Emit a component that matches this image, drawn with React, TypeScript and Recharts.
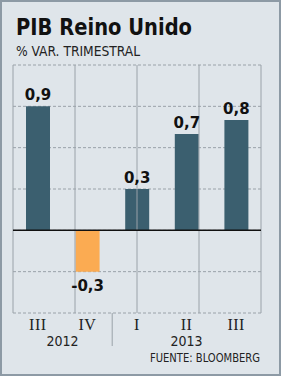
import React from 'react'
import { BarChart, Bar, XAxis, YAxis, CartesianGrid, ReferenceLine, LabelList, Cell } from 'recharts'

const quarters = ['III', 'IV', 'I', 'II', 'III']
const growth = [0.9, -0.3, 0.3, 0.7, 0.8]
const yearGroups = [
  { year: '2012', first: 0, last: 1 },
  { year: '2013', first: 2, last: 4 },
]
const yTicks = [-0.6, -0.3, 0, 0.3, 0.6, 0.9, 1.2]
const bounds = [0, 1, 2, 3, 4, 5]

const W = 281
const H = 376
const M = { top: 65, right: 20, bottom: 33, left: 13 }
const plotW = W - M.left - M.right
const plotBottom = 313
const band = plotW / quarters.length

const BG = '#dfe5ea'
const POS = '#3b5f6f'
const NEG = '#fbab52'
const GRID = '#9aa2a9'
const COND = "'DejaVu Sans Condensed', 'DejaVu Sans', sans-serif"

const data = quarters.map((q, i) => ({ id: i, quarter: q, value: growth[i] }))

const fmt = (v: number) => v.toFixed(1).replace('.', ',')

function QuarterTick(props: any) {
  const { x, payload } = props
  const i = payload.value as number
  const group = yearGroups.find((g) => g.first === i)
  return (
    <g>
      <text x={x} y={330} textAnchor="middle" fontFamily="'Liberation Serif', serif" fontSize={16} letterSpacing={0.5} fill="#222">
        {quarters[i]}
      </text>
      {group && (
        <text
          x={x + ((group.last - group.first) * band) / 2}
          y={346}
          textAnchor="middle"
          fontFamily={COND}
          fontSize={14}
          fill="#222"
        >
          {group.year}
        </text>
      )}
      {group && group.first > 0 && (
        <line x1={x - band / 2} x2={x - band / 2} y1={plotBottom} y2={346} stroke={GRID} strokeWidth={1} />
      )}
    </g>
  )
}

function ValueLabel(props: any) {
  const { x, y, width, height, value } = props
  const neg = value < 0
  const cx = x + width / 2
  const top = Math.min(y, y + height)
  const bottom = Math.max(y, y + height)
  const ty = neg ? bottom + 19 : top - 6
  return (
    <text x={cx} y={ty} textAnchor="middle" fontFamily="'DejaVu Sans', sans-serif" fontWeight="bold" fontSize={15} fill="#111">
      {fmt(value)}
    </text>
  )
}

export default function App() {
  return (
    <div style={{ position: 'fixed', left: 0, top: 0, width: W, height: H, background: BG }}>
      <BarChart width={W} height={H} data={data} margin={M} barCategoryGap={0}>
        <CartesianGrid vertical={false} stroke={GRID} strokeDasharray="3 2" />
        <XAxis dataKey="id" axisLine={false} tickLine={false} tick={<QuarterTick />} interval={0} height={30} />
        <XAxis xAxisId="b" type="number" domain={[0, 5]} hide />
        <YAxis hide domain={[-0.6, 1.2]} ticks={yTicks} type="number" />
        {bounds.map((b) => (
          <ReferenceLine key={b} xAxisId="b" x={b} stroke={GRID} strokeWidth={1} />
        ))}
        <ReferenceLine y={0} stroke="#111" strokeWidth={1.5} />
        <Bar dataKey="value" barSize={24} isAnimationActive={false}>
          {data.map((d) => (
            <Cell key={d.id} fill={d.value < 0 ? NEG : POS} />
          ))}
          <LabelList dataKey="value" content={<ValueLabel />} />
        </Bar>
      </BarChart>
      <svg width={W} height={H} style={{ position: 'absolute', left: 0, top: 0, pointerEvents: 'none' }}>
        <rect x={1} y={1} width={W - 2} height={H - 2} fill="none" stroke="#8d9aa5" strokeWidth={2} />
        <text x={16} y={35} fontFamily="'DejaVu Sans', sans-serif" fontWeight="bold" fontSize={23} fill="#111" textLength={176} lengthAdjust="spacingAndGlyphs">
          PIB Reino Unido
        </text>
        <text x={16} y={56} fontFamily={COND} fontSize={14} fill="#222" textLength={124} lengthAdjust="spacingAndGlyphs">
          % VAR. TRIMESTRAL
        </text>
        <text x={260} y={362} textAnchor="end" fontFamily={COND} fontSize={12} fill="#222" textLength={110} lengthAdjust="spacingAndGlyphs">
          FUENTE: BLOOMBERG
        </text>
      </svg>
    </div>
  )
}
